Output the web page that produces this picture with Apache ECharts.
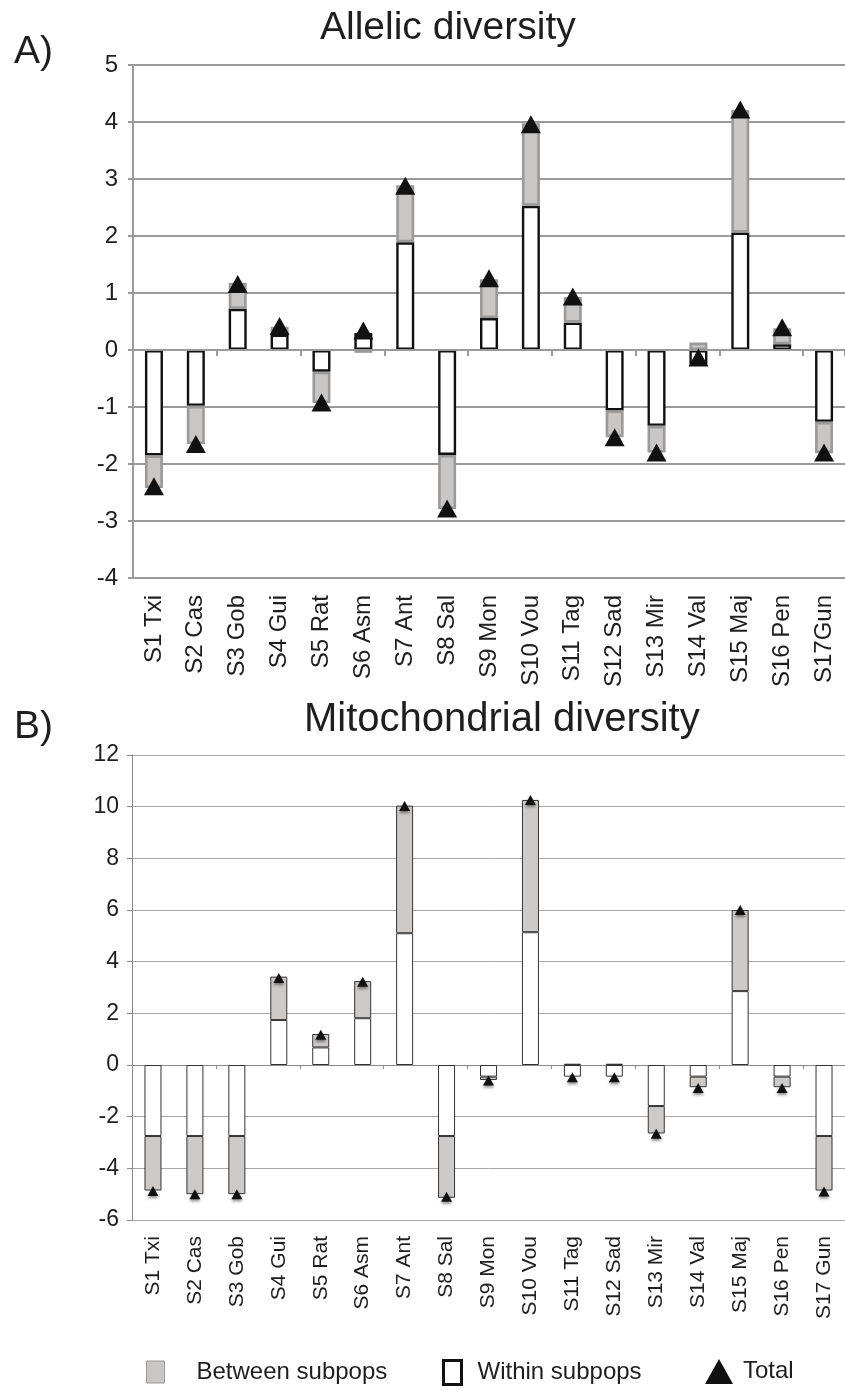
<!DOCTYPE html>
<html>
<head>
<meta charset="utf-8">
<script src="https://cdn.jsdelivr.net/npm/echarts@6/dist/echarts.min.js"></script>
<style>
html,body{margin:0;padding:0;background:#fff;}
#c{width:845px;height:1391px;}
</style>
</head>
<body>
<div id="c"></div>
<script>
var catsA = ['S1 Txi','S2 Cas','S3 Gob','S4 Gui','S5 Rat','S6 Asm','S7 Ant','S8 Sal','S9 Mon','S10 Vou','S11 Tag','S12 Sad','S13 Mir','S14 Val','S15 Maj','S16 Pen','S17Gun'];
var catsB = ['S1 Txi','S2 Cas','S3 Gob','S4 Gui','S5 Rat','S6 Asm','S7 Ant','S8 Sal','S9 Mon','S10 Vou','S11 Tag','S12 Sad','S13 Mir','S14 Val','S15 Maj','S16 Pen','S17 Gun'];

var withinA  = [-1.85,-0.98,0.72,0.27,-0.38,0.30,1.89,-1.84,0.56,2.53,0.48,-1.06,-1.33,-0.25,2.06,0.10,-1.26];
var betweenA = [-0.57,-0.67,0.46,0.14,-0.55,-0.05,1.00,-0.95,0.68,1.45,0.45,-0.47,-0.47,0.13,2.15,0.28,-0.55];
var totalA   = [-2.39,-1.65,1.16,0.42,-0.92,0.34,2.88,-2.78,1.26,3.96,0.94,-1.53,-1.80,-0.13,4.22,0.40,-1.80];

var withinB  = [-2.75,-2.75,-2.75,1.74,0.68,1.81,5.10,-2.75,-0.45,5.14,-0.45,-0.45,-1.59,-0.45,2.86,-0.45,-2.75];
var betweenB = [-2.11,-2.25,-2.25,1.68,0.52,1.44,4.94,-2.39,-0.13,5.12,0.05,0.05,-1.06,-0.41,3.14,-0.41,-2.11];
var totalB   = [-4.88,-5.00,-5.00,3.37,1.17,3.22,10.03,-5.10,-0.60,10.26,-0.47,-0.47,-2.66,-0.89,6.00,-0.89,-4.90];

var titles = ['Allelic diversity','Mitochondrial diversity'];
var panelLabels = ['A)','B)'];
var legendNames = ['Between subpops','Within subpops','Total'];

var FONT = '"Liberation Sans", Arial, Helvetica, sans-serif';
var grayFill = '#c9c6c3';
var TXT = '#1e1e1e';

var chart = echarts.init(document.getElementById('c'), null, {renderer:'canvas'});

function ttl(text, left, top, size) {
  return {text: text, left: left, top: top, padding: 0,
          textStyle:{fontSize:size, fontWeight:'normal', color:TXT, fontFamily:FONT}};
}

var option = {
  backgroundColor: '#ffffff',
  animation: false,
  textStyle: {fontFamily: FONT},
  title: [
    ttl(titles[0], 320, 9, 39),
    ttl(panelLabels[0], 14, 33, 39),
    ttl(titles[1], 304, 700, 40),
    ttl(panelLabels[1], 14, 708, 39)
  ],
  legend: [
    {data:[{name:legendNames[0], icon:'rect', itemStyle:{color:grayFill, borderColor:'#999', borderWidth:1}}],
     left:146, top:1360, itemWidth:18, itemHeight:22, padding:0,
     textStyle:{fontSize:24, color:TXT, fontFamily:FONT, padding:[0,0,0,27]}},
    {data:[{name:legendNames[1], icon:'rect', itemStyle:{color:'#fff', borderColor:'#111', borderWidth:3}}],
     left:442, top:1359, itemWidth:18, itemHeight:24, padding:0,
     textStyle:{fontSize:24, color:TXT, fontFamily:FONT, padding:[0,0,0,11]}},
    {data:[{name:legendNames[2], icon:'triangle', itemStyle:{color:'#111'}}],
     left:705, top:1359, itemWidth:28, itemHeight:25, padding:0,
     textStyle:{fontSize:24, color:TXT, fontFamily:FONT, padding:[0,0,0,5]}}
  ],
  grid: [
    {left:133, right:0, top:65, height:513},
    {left:132, right:0, top:755, height:465}
  ],
  xAxis: [
    {gridIndex:0, type:'category', data:catsA, position:'top', z:4,
     axisLine:{onZero:true, lineStyle:{color:'#9a9a9a', width:2}},
     axisTick:{show:true, inside:true, length:6, lineStyle:{color:'#9a9a9a', width:2}},
     axisLabel:{show:false}, splitLine:{show:false}},
    {gridIndex:0, type:'category', data:catsA, position:'bottom',
     axisLine:{show:false, onZero:false}, axisTick:{show:false},
     axisLabel:{rotate:90, margin:17, fontSize:24, color:TXT, fontFamily:FONT, interval:0}},
    {gridIndex:1, type:'category', data:catsB, position:'top',
     axisLine:{onZero:true, lineStyle:{color:'#8a8a8a', width:1}},
     axisTick:{show:true, inside:true, length:4, lineStyle:{color:'#8a8a8a', width:1}},
     axisLabel:{show:false}, splitLine:{show:false}},
    {gridIndex:1, type:'category', data:catsB, position:'bottom',
     axisLine:{show:false, onZero:false}, axisTick:{show:false},
     axisLabel:{rotate:90, margin:16, fontSize:21, color:TXT, fontFamily:FONT, interval:0}}
  ],
  yAxis: [
    {gridIndex:0, type:'value', min:-4, max:5, interval:1,
     axisLine:{show:true, lineStyle:{color:'#9a9a9a', width:2}},
     axisTick:{show:true, length:5, lineStyle:{color:'#9a9a9a', width:2}},
     axisLabel:{fontSize:24, color:TXT, margin:15, fontFamily:FONT},
     splitLine:{show:true, lineStyle:{color:'#9a9a9a', width:2}}},
    {gridIndex:1, type:'value', min:-6, max:12, interval:2,
     axisLine:{show:true, lineStyle:{color:'#8a8a8a', width:1}},
     axisTick:{show:true, length:5, lineStyle:{color:'#8a8a8a', width:1}},
     axisLabel:{fontSize:23, color:TXT, margin:13, fontFamily:FONT},
     splitLine:{show:true, lineStyle:{color:'#a8a8a8', width:1}}}
  ],
  series: [
    {name:legendNames[1], type:'bar', xAxisIndex:0, yAxisIndex:0, stack:'A', barWidth:18, data:withinA, z:2,
     itemStyle:{color:'#fff', borderColor:'#111', borderWidth:2.4}},
    {name:legendNames[0], type:'bar', xAxisIndex:0, yAxisIndex:0, stack:'A', barWidth:18, data:betweenA, z:3,
     itemStyle:{color:grayFill, borderColor:'#9a9a9a', borderWidth:2.6}},
    {name:legendNames[2], type:'scatter', xAxisIndex:0, yAxisIndex:0, data:totalA, z:5,
     symbol:'triangle', symbolSize:[20,18], itemStyle:{color:'#111', opacity:1}},
    {name:legendNames[1], type:'bar', xAxisIndex:2, yAxisIndex:1, stack:'B', barWidth:17, data:withinB, z:2,
     itemStyle:{color:'#fff', borderColor:'#333', borderWidth:1}},
    {name:legendNames[0], type:'bar', xAxisIndex:2, yAxisIndex:1, stack:'B', barWidth:17, data:betweenB, z:3,
     itemStyle:{color:'#cdcac7', borderColor:'#333', borderWidth:1}},
    {name:legendNames[2], type:'scatter', xAxisIndex:2, yAxisIndex:1, data:totalB, z:5,
     symbol:'triangle', symbolSize:[11,10],
     itemStyle:{color:'#111', opacity:1, shadowBlur:3, shadowColor:'rgba(0,0,0,0.45)', shadowOffsetY:2}}
  ]
};
chart.setOption(option);
</script>
</body>
</html>
